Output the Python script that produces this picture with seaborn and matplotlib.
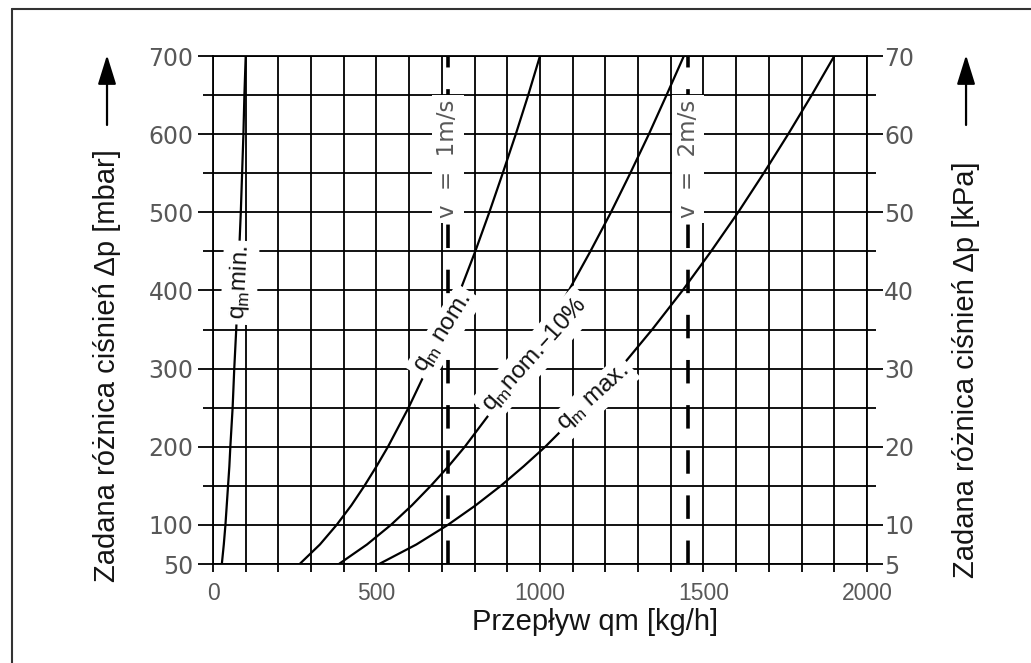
import matplotlib
matplotlib.use("Agg")
import matplotlib.pyplot as plt
from matplotlib.lines import Line2D
from matplotlib.ticker import FixedLocator
import pandas as pd
import seaborn as sns

# roznica cisnien [mbar] i przeplyw [kg/h]
dp_mbar = [50, 75, 100, 125, 150, 175, 200, 250, 300, 350, 400, 450, 500, 550, 600, 650, 700]
q_min = [27, 33, 38, 42, 46, 50, 53, 60, 65, 71, 76, 80, 85, 89, 93, 96, 100]
q_nom = [265, 327, 378, 423, 463, 500, 535, 598, 655, 707, 756, 802, 845, 886, 926, 964, 1000]
q_nom10 = [385, 471, 544, 608, 666, 720, 770, 860, 942, 1018, 1088, 1154, 1217, 1276, 1333, 1387, 1440]
q_max = [508, 622, 718, 803, 880, 950, 1016, 1135, 1244, 1343, 1436, 1523, 1606, 1684, 1759, 1831, 1900]

v_lines = [718, 1453]
v_labels = ["v  =  1m/s", "v  =  2m/s"]

x_ticks = [0, 500, 1000, 1500, 2000]
x_minor = [x for x in range(0, 2001, 100) if x not in x_ticks]
y_ticks = [50, 100, 200, 300, 400, 500, 600, 700]
y_minor = [150, 250, 350, 450, 550, 650]
kpa_ticks = [5, 10, 20, 30, 40, 50, 60, 70]
kpa_minor = [15, 25, 35, 45, 55, 65]

y_lo, y_hi = 50, 700

df = pd.concat([
    pd.DataFrame({"q": q, "dp": dp_mbar, "curve": name})
    for name, q in [("min", q_min), ("nom", q_nom), ("nom10", q_nom10), ("max", q_max)]
])

sns.set_style("white")
plt.rcParams["font.family"] = ["Liberation Sans", "DejaVu Sans"]

fig = plt.figure(figsize=(10.31, 6.63), dpi=100)
ax = fig.add_axes([0.2066, 0.1493, 0.6343, 0.7662])

sns.lineplot(data=df, x="q", y="dp", units="curve", estimator=None, sort=False,
             color="black", lw=1.6, ax=ax, legend=False)

ax.vlines(v_lines, y_lo, y_hi, color="black", lw=2.6, linestyles=(0, (6.5, 6)))

ax.set_xlim(0, 2000)
ax.set_ylim(y_lo, y_hi)
ax.xaxis.set_major_locator(FixedLocator(x_ticks))
ax.xaxis.set_minor_locator(FixedLocator(x_minor))
ax.yaxis.set_major_locator(FixedLocator(y_ticks))
ax.yaxis.set_minor_locator(FixedLocator(y_minor))
ax.grid(which="both", color="black", lw=1.3)
ax.set_xlabel("")
ax.set_ylabel("")
for s in ax.spines.values():
    s.set_color("black")
    s.set_linewidth(1.3)

tick_col = "#585858"
ax.tick_params(axis="x", which="both", length=6, width=1.3, color="black",
               labelsize=16.5, labelcolor=tick_col, pad=7, bottom=True)
ax.tick_params(axis="y", which="major", length=11, width=1.3, color="black",
               labelsize=17, labelcolor=tick_col, pad=3, left=True)
ax.tick_params(axis="y", which="minor", length=7, width=1.3, color="black", left=True)
for t in ax.get_xticklabels():
    t.set_fontfamily(["Liberation Sans Narrow", "Liberation Sans"])
for t in ax.get_yticklabels():
    t.set_fontfamily(["DejaVu Sans"])

ax2 = ax.twinx()
ax2.set_ylim(y_lo / 10, y_hi / 10)
ax2.yaxis.set_major_locator(FixedLocator(kpa_ticks))
ax2.yaxis.set_minor_locator(FixedLocator(kpa_minor))
ax2.tick_params(axis="y", which="major", length=11.5, width=1.3, color="black",
                labelsize=17, labelcolor=tick_col, pad=1, right=True)
ax2.tick_params(axis="y", which="minor", length=6.5, width=1.3, color="black", right=True)
for s in ax2.spines.values():
    s.set_visible(False)
for t in ax2.get_yticklabels():
    t.set_fontfamily(["DejaVu Sans"])

box = dict(boxstyle="square,pad=0.2", fc="white", ec="none")
curve_labels = [
    (82, 410, 87, r"q$_\mathregular{m}$min."),
    (706, 345, 58, r"q$_\mathregular{m}$ nom."),
    (985, 318, 48, r"q$_\mathregular{m}$nom.–10%"),
    (1165, 262, 42, r"q$_\mathregular{m}$ max."),
]
for x, y, rot, txt in curve_labels:
    ax.text(x, y, txt, rotation=rot, rotation_mode="anchor", ha="center", va="center",
            fontsize=17.5, color="#111111", bbox=box, zorder=6)

for x, txt in zip(v_lines, v_labels):
    ax.text(x, 568, txt, rotation=90, rotation_mode="anchor", ha="center", va="center",
            fontsize=16.5, color=tick_col, family=["DejaVu Sans"],
            bbox=box, zorder=6)

lab_col = "#151515"
fig.text(0.1038, 0.448, "Zadana różnica ciśnień Δp [mbar]", rotation=90,
         ha="center", va="center", fontsize=21, color=lab_col)
fig.text(0.937, 0.442, "Zadana różnica ciśnień Δp [kPa]", rotation=90,
         ha="center", va="center", fontsize=21, color=lab_col)
fig.text(0.577, 0.062, "Przepływ qm [kg/h]", ha="center", va="center",
         fontsize=21, color=lab_col)

arrow = dict(arrowstyle="-|>,head_length=0.9,head_width=0.28", color="black",
             lw=1.6, mutation_scale=20, shrinkA=0, shrinkB=0)
for xf in (0.1038, 0.937):
    fig.add_artist(matplotlib.patches.FancyArrowPatch(
        (xf, 0.8115), (xf, 0.917), transform=fig.transFigure, **arrow))

fig.add_artist(Line2D([0.0116, 0.0116], [0, 0.986], color="#333333", lw=1.5,
                      transform=fig.transFigure))
fig.add_artist(Line2D([0.0116, 1], [0.986, 0.986], color="#333333", lw=1.5,
                      transform=fig.transFigure))

fig.savefig("out.png", dpi=100, facecolor="white")
